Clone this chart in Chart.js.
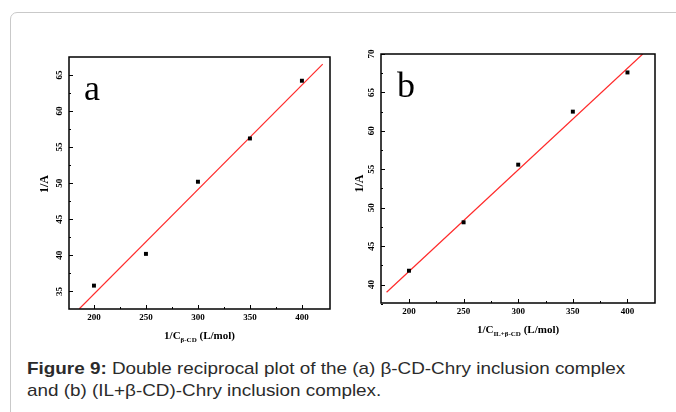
<!DOCTYPE html>
<html lang="fr">
<head>
<meta charset="utf-8">
<script src="https://cdn.jsdelivr.net/npm/chart.js@4.4.1/dist/chart.umd.min.js"></script>
<style>
    html, body { margin: 0; padding: 0; background: #fff; }
    body { width: 676px; height: 412px; position: relative; overflow: hidden; }
    .carte {
        position: absolute; left: 10px; top: 12px; width: 720px; height: 440px;
        border: 1px solid #c9c9c9; border-radius: 7px; box-sizing: border-box;
    }
    canvas { position: absolute; top: 0; }
    #graphiqueA { left: 0; }
    #graphiqueB { left: 340px; }
    .legende {
        position: absolute; left: 27px; top: 358px; white-space: nowrap;
        font: 17px "Liberation Sans", Arial, sans-serif; line-height: 22px; color: #2b2b2b;
        transform: scaleX(1.11); transform-origin: left top;
    }
</style>
</head>
<body>
<div class="carte"></div>
<canvas id="graphiqueA" width="340" height="345"></canvas>
<canvas id="graphiqueB" width="336" height="345"></canvas>
<div class="legende"><b>Figure 9:</b> Double reciprocal plot of the (a) β-CD-Chry inclusion complex<br>and (b) (IL+β-CD)-Chry inclusion complex.</div>
<script>
// Données
const inverseConcentration = [200, 250, 300, 350, 400];
const inverseAbsorbanceA = [35.8, 40.2, 50.2, 56.2, 64.2];
const inverseAbsorbanceB = [41.8, 48.1, 55.6, 62.5, 67.6];

// Droites d'ajustement (extrémités)
const ajustementXA = [186, 420];
const ajustementYA = [32.6, 66.5];
const ajustementXB = [179.5, 414];
const ajustementYB = [39.0, 70.0];

// Graduations
const ticksX = [200, 250, 300, 350, 400];
const ticksXMineurs = [225, 275, 325, 375];
const ticksYA = [35, 40, 45, 50, 55, 60, 65];
const ticksYAMineurs = [37.5, 42.5, 47.5, 52.5, 57.5, 62.5];
const ticksYB = [40, 45, 50, 55, 60, 65, 70];
const ticksYBMineurs = [37.5, 42.5, 47.5, 52.5, 57.5, 62.5, 67.5];

const POLICE = '"Liberation Serif", "Times New Roman", serif';

/**
 * Plugin : cadre, graduations intérieures, libellés et titres façon Origin
 */
const decorAxes = {
    id: 'decorAxes',
    afterDatasetsDraw(chart, args, opts) {
        const { ctx, chartArea: zone, scales: { x, y } } = chart;
        ctx.save();
        ctx.fillStyle = '#000';
        ctx.strokeStyle = '#000';

        // Cadre
        ctx.lineWidth = 1.5;
        ctx.strokeRect(zone.left, zone.top, zone.right - zone.left, zone.bottom - zone.top);

        // Graduations intérieures
        ctx.lineWidth = 1;
        ctx.beginPath();
        opts.ticksX.forEach(v => {
            const px = Math.round(x.getPixelForValue(v)) + 0.5;
            ctx.moveTo(px, zone.bottom); ctx.lineTo(px, zone.bottom - 4);
        });
        opts.ticksXMineurs.forEach(v => {
            const px = Math.round(x.getPixelForValue(v)) + 0.5;
            ctx.moveTo(px, zone.bottom); ctx.lineTo(px, zone.bottom - 2);
        });
        opts.ticksY.forEach(v => {
            const py = Math.round(y.getPixelForValue(v)) + 0.5;
            ctx.moveTo(zone.left, py); ctx.lineTo(zone.left + 4, py);
        });
        opts.ticksYMineurs.forEach(v => {
            const py = Math.round(y.getPixelForValue(v)) + 0.5;
            ctx.moveTo(zone.left, py); ctx.lineTo(zone.left + 2, py);
        });
        ctx.stroke();

        // Libellés des graduations
        ctx.font = 'bold 9px ' + POLICE;
        ctx.textAlign = 'center';
        ctx.textBaseline = 'middle';
        opts.ticksX.forEach(v => {
            ctx.fillText(String(v), x.getPixelForValue(v), zone.bottom + 9);
        });
        opts.ticksY.forEach(v => {
            ctx.save();
            ctx.translate(zone.left - 9, y.getPixelForValue(v));
            ctx.rotate(-Math.PI / 2);
            ctx.fillText(String(v), 0, 0);
            ctx.restore();
        });

        // Titre de l'axe Y
        ctx.save();
        ctx.font = 'bold 12px ' + POLICE;
        ctx.translate(zone.left - opts.decalageTitreY, (zone.top + zone.bottom) / 2 + opts.decalageTitreYVertical);
        ctx.rotate(-Math.PI / 2);
        ctx.fillText('1/A', 0, 0);
        ctx.restore();

        // Titre de l'axe X avec indice
        const principal = 'bold 11px ' + POLICE;
        const indice = 'bold 7px ' + POLICE;
        ctx.font = principal;
        const l1 = ctx.measureText('1/C').width;
        const l3 = ctx.measureText(' (L/mol)').width;
        ctx.font = indice;
        const l2 = ctx.measureText(opts.indice).width;
        let xt = (zone.left + zone.right) / 2 - (l1 + l2 + l3) / 2;
        const yt = zone.bottom + 27;
        ctx.textAlign = 'left';
        ctx.textBaseline = 'alphabetic';
        ctx.font = principal;
        ctx.fillText('1/C', xt, yt + 3);
        xt += l1;
        ctx.font = indice;
        ctx.fillText(opts.indice, xt, yt + 6);
        xt += l2;
        ctx.font = principal;
        ctx.fillText(' (L/mol)', xt, yt + 3);

        // Lettre du panneau
        ctx.font = '36px ' + POLICE;
        ctx.fillText(opts.lettre, zone.left + opts.lettreX, zone.top + opts.lettreY);

        ctx.restore();
    }
};

/**
 * Crée un panneau de tracé en double inverse
 */
function creerPanneau(idCanvas, valeurs, ajustX, ajustY, echelles, padding, decor) {
    const ctx = document.getElementById(idCanvas);
    return new Chart(ctx, {
        type: 'scatter',
        data: {
            datasets: [{
                label: 'Ajustement',
                data: ajustX.map((v, i) => ({ x: v, y: ajustY[i] })),
                showLine: true,
                borderColor: '#ff2a2a',
                borderWidth: 1.2,
                pointRadius: 0,
                order: 2
            }, {
                label: 'Mesures',
                data: inverseConcentration.map((v, i) => ({ x: v, y: valeurs[i] })),
                backgroundColor: '#000',
                borderColor: '#000',
                pointStyle: 'rect',
                pointRadius: 2.8,
                borderWidth: 0,
                order: 1
            }]
        },
        options: {
            responsive: false,
            animation: false,
            layout: { padding: padding },
            plugins: {
                legend: { display: false },
                tooltip: { enabled: false },
                decorAxes: decor
            },
            scales: {
                x: { type: 'linear', display: false, min: echelles.xMin, max: echelles.xMax },
                y: { type: 'linear', display: false, min: echelles.yMin, max: echelles.yMax }
            }
        },
        plugins: [decorAxes]
    });
}

creerPanneau('graphiqueA', inverseAbsorbanceA, ajustementXA, ajustementYA,
    { xMin: 176, xMax: 427, yMin: 32.56, yMax: 67.49 },
    { left: 69, top: 57, right: 10, bottom: 36 },
    {
        ticksX, ticksXMineurs, ticksY: ticksYA, ticksYMineurs: ticksYAMineurs,
        indice: 'β-CD', lettre: 'a', lettreX: 15, lettreY: 43,
        decalageTitreY: 24, decalageTitreYVertical: 1
    });

creerPanneau('graphiqueB', inverseAbsorbanceB, ajustementXB, ajustementYB,
    { xMin: 174.4, xMax: 425.2, yMin: 37.6, yMax: 70 },
    { left: 41, top: 54, right: 21, bottom: 42 },
    {
        ticksX, ticksXMineurs, ticksY: ticksYB, ticksYMineurs: ticksYBMineurs,
        indice: 'IL+β-CD', lettre: 'b', lettreX: 16, lettreY: 43,
        decalageTitreY: 21, decalageTitreYVertical: 5
    });
</script>
</body>
</html>
